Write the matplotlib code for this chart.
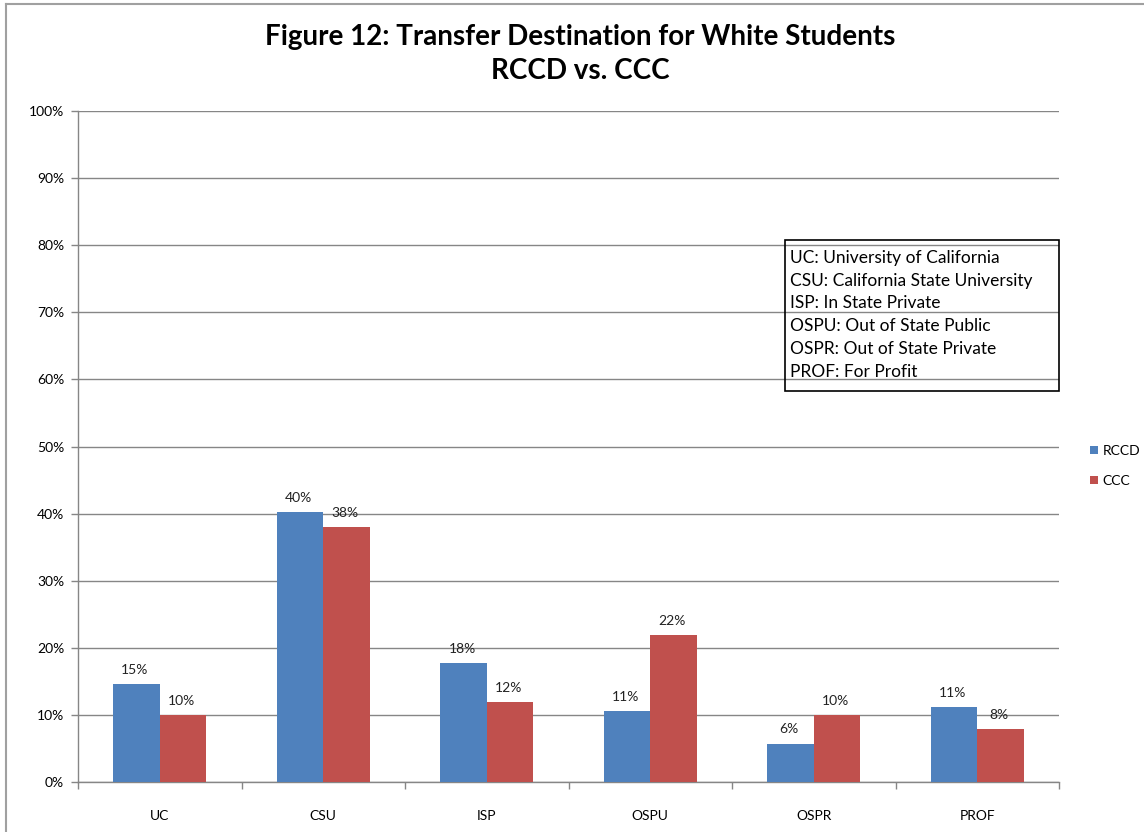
import numpy as np
import matplotlib.pyplot as plt
from matplotlib.patches import Rectangle
from matplotlib.lines import Line2D

# Data
categories = ['UC', 'CSU', 'ISP', 'OSPU', 'OSPR', 'PROF']
rccd = [14.6, 40.2, 17.7, 10.6, 5.7, 11.2]
ccc = [10.0, 38.0, 11.9, 21.9, 10.0, 7.9]
series_names = ['RCCD', 'CCC']
key_lines = ['UC: University of California',
             'CSU: California State University',
             'ISP: In State Private',
             'OSPU: Out of State Public',
             'OSPR: Out of State Private',
             'PROF: For Profit']

plt.rcParams['font.family'] = ['Lato', 'DejaVu Sans']

W, H = 1144, 832
fig = plt.figure(figsize=(W / 100, H / 100), dpi=100)

def fx(px):
    return px / W

def fy(py):
    return 1 - py / H

ax = fig.add_axes([fx(78), fy(782), fx(1059) - fx(78), fy(111) - fy(782)])

x = np.arange(len(categories))
bw = 1 / 3.5
b1 = ax.bar(x - bw / 2, rccd, bw, color='#4F81BD', label=series_names[0], zorder=3)
b2 = ax.bar(x + bw / 2, ccc, bw, color='#C0504D', label=series_names[1], zorder=3)

for bars, vals in [(b1, rccd), (b2, ccc)]:
    for rect, v in zip(bars, vals):
        ax.annotate(f'{round(v)}%', (rect.get_x() + rect.get_width() / 2, v),
                    xytext=(-1, 6), textcoords='offset points',
                    ha='center', va='bottom', fontsize=10, color='#222222')

ax.set_xlim(-0.5, len(categories) - 0.5)
ax.set_ylim(0, 100)
ax.set_yticks(np.arange(0, 101, 10))
ax.set_yticklabels([f'{v}%' for v in range(0, 101, 10)])
ax.set_xticks(x)
ax.set_xticklabels(categories)
ax.set_xticks(np.arange(-0.5, len(categories), 1), minor=True)
ax.tick_params(axis='x', which='major', length=0, pad=20, labelsize=10)
ax.tick_params(axis='x', which='minor', length=5, color='#868686', width=1)
ax.tick_params(axis='y', length=5, color='#868686', width=1, labelsize=10, pad=5)
ax.yaxis.grid(True, color='#868686', linewidth=1, zorder=0)
for s in ['top', 'right']:
    ax.spines[s].set_visible(False)
for s in ['left', 'bottom']:
    ax.spines[s].set_color('#868686')
    ax.spines[s].set_linewidth(1)

leg = fig.legend(handles=[b1, b2], loc='center left',
                 bbox_to_anchor=(fx(1083), fy(466)), frameon=False,
                 fontsize=10, handlelength=0.55, handleheight=0.55,
                 handletextpad=0.35, labelspacing=1.3, borderpad=0)

fig.text(fx(580), fy(54),
         'Figure 12: Transfer Destination for White Students\nRCCD vs. CCC',
         ha='center', va='center', fontsize=20, fontweight='bold',
         linespacing=1.4, multialignment='center')

# key box
fig.add_artist(Rectangle((fx(785), fy(391)), fx(1059) - fx(785), fy(240) - fy(391),
                         transform=fig.transFigure, fill=False,
                         edgecolor='black', linewidth=1.2))
for i, line in enumerate(key_lines):
    fig.text(fx(790), fy(258 + 22.7 * i), line, fontsize=12.5, va='center', ha='left')

# outer frame
fig.add_artist(Line2D([fx(6), fx(6)], [0, fy(4)], transform=fig.transFigure,
                      color='#a0a0a0', linewidth=1.5))
fig.add_artist(Line2D([fx(6), 1], [fy(4), fy(4)], transform=fig.transFigure,
                      color='#a0a0a0', linewidth=1.5))

fig.savefig('out.png', dpi=100)
